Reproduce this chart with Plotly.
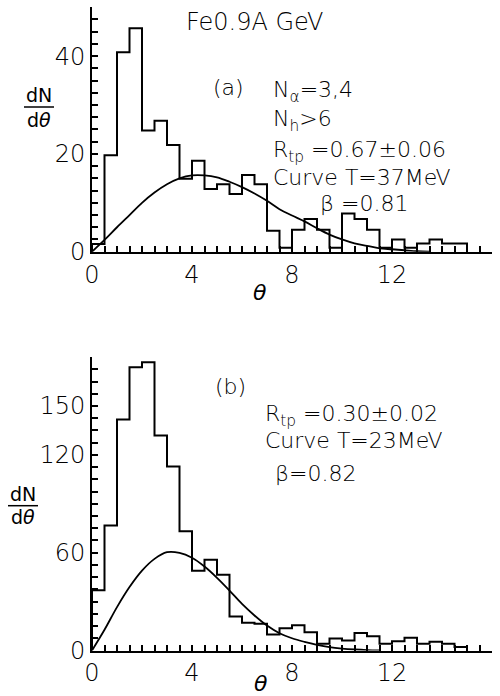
import numpy as np
import plotly.graph_objects as go

# ---- data -------------------------------------------------------------
BIN_WIDTH = 0.5  # theta bin width (deg)

# panel (a): Fe 0.9A GeV, N_alpha = 3,4, N_h > 6
hist_a = [1.6, 19.7, 40.8, 45.7, 24.8, 26.8, 21.8, 14.9, 18.6, 12.8,
          13.8, 11.8, 15.7, 13.8, 4.3, 0.8, 4.5, 6.7, 4.5, 0.8,
          7.8, 6.7, 4.5, 0.8, 2.5, 0.8, 1.7, 2.5, 1.7, 1.7]
curve_a_theta = [0, 0.5, 1, 1.5, 2, 2.5, 3, 3.5, 4, 4.5, 5, 5.5, 6, 6.5, 7,
                 7.5, 8, 8.5, 9, 9.5, 10, 10.5, 11, 11.5, 12, 12.5, 13, 13.5]
curve_a_val = [0, 2.4, 5.0, 7.5, 10.0, 12.1, 13.8, 15.0, 15.6, 15.6, 15.2,
               14.3, 13.2, 11.9, 10.4, 8.7, 7.4, 6.2, 4.8, 3.5, 2.5, 1.7,
               1.2, 0.7, 0.5, 0.3, 0.1, 0.0]

# panel (b)
hist_b = [37.0, 76.7, 141.7, 173.8, 176.9, 131.9, 112.9, 73.2, 49.0, 55.6,
          46.4, 20.9, 17.0, 16.4, 9.8, 13.7, 15.5, 11.2, 4.1, 7.4,
          6.1, 10.8, 8.8, 4.1, 5.7, 7.8, 4.1, 5.3, 4.1, 2.2]
curve_b_theta = [0, 0.5, 1, 1.5, 2, 2.5, 3, 3.5, 4, 4.5, 5, 5.5, 6, 6.5, 7,
                 7.5, 8, 8.5, 9, 9.5, 10, 10.5, 11, 11.5]
curve_b_val = [0, 12.7, 26.6, 38.9, 49.0, 56.2, 60.3, 59.9, 56.9, 51.5, 44.6,
               36.8, 28.6, 21.5, 15.3, 10.6, 7.5, 5.3, 3.5, 2.1, 1.2, 0.6,
               0.2, 0.0]

x_labels_a = [0, 4, 8, 12, 16]
x_labels_b = [0, 4, 8, 12]
y_labels_a = [0, 20, 40]
y_labels_b = [0, 60, 120, 150]

W, H = 500, 696
FONT = "DejaVu Sans"


def px(x):
    return x / W


def py(y):
    return 1 - y / H


def step_xy(values, width):
    """Outline of a histogram as a staircase starting and ending on the axis."""
    v = np.asarray(values, dtype=float)
    edges = np.arange(len(v) + 1) * width
    xs = np.concatenate([[edges[0]], edges[:-1], [edges[-1], edges[-1]]])
    ys = np.concatenate([[0.0], v, [v[-1], 0.0]])
    return xs, ys


def tick_spec(step, top, labelled):
    """Evenly spaced tick marks; only the listed values carry a label."""
    vals = [round(i * step, 6) for i in range(int(round(top / step)) + 1)]
    text = []
    for v in vals:
        hit = [lab for lab in labelled if abs(lab - v) < 1e-6]
        text.append(str(hit[0]) if hit else "")
    return dict(tickmode="array", tickvals=vals, ticktext=text, tickangle=0)


fig = go.Figure()

for hist, th, cv, xa, ya in [
    (hist_a, curve_a_theta, curve_a_val, "x", "y"),
    (hist_b, curve_b_theta, curve_b_val, "x2", "y2"),
]:
    sx, sy = step_xy(hist, BIN_WIDTH)
    fig.add_trace(go.Scatter(x=sx.tolist(), y=sy.tolist(), mode="lines",
                             xaxis=xa, yaxis=ya,
                             line=dict(color="black", width=2, shape="hv"),
                             showlegend=False, hoverinfo="skip"))
    fig.add_trace(go.Scatter(x=th, y=cv, mode="lines", xaxis=xa, yaxis=ya,
                             line=dict(color="black", width=1.8,
                                       shape="spline", smoothing=1.0),
                             showlegend=False, hoverinfo="skip"))

tick_font = dict(family=FONT, size=24, color="black", weight=200)
axis_common = dict(showline=True, linewidth=2, linecolor="black",
                   ticks="inside", ticklen=6, tickwidth=1.6, tickcolor="black",
                   showgrid=False, zeroline=False, tickfont=tick_font,
                   mirror=False, fixedrange=True, automargin=False)

x_dom = [px(92), px(492)]
fig.update_layout(
    width=W, height=H,
    margin=dict(l=0, r=0, t=0, b=0),
    paper_bgcolor="white", plot_bgcolor="white",
    xaxis=dict(domain=x_dom, range=[0, 16], anchor="y",
               **tick_spec(0.5, 16, x_labels_a), **axis_common),
    yaxis=dict(domain=[py(251.7), py(7.2)], range=[0, 50], anchor="x",
               **tick_spec(2.5, 47.5, y_labels_a), **axis_common),
    xaxis2=dict(domain=x_dom, range=[0, 16], anchor="y2",
                **tick_spec(0.5, 16, x_labels_b), **axis_common),
    yaxis2=dict(domain=[py(650.5), py(357.1)], range=[0, 180], anchor="x2",
                **tick_spec(7.5, 180, y_labels_b), **axis_common),
)

label_font = dict(family=FONT, size=22, color="black", weight=200)
frac_font = dict(family=FONT, size=19, color="black")


def note(text, x, y, font=label_font, xanchor="left"):
    fig.add_annotation(text=text, x=px(x), y=py(y), xref="paper", yref="paper",
                       xanchor=xanchor, yanchor="middle", showarrow=False,
                       font=font)


# panel (a) labels
note("Fe0.9A GeV", 184, 22, font=dict(family=FONT, size=24, color="black",
                                       weight=200))
note("(a)", 211, 87)
note("N<sub>α</sub>=3,4", 271, 91)
note("N<sub>h</sub>&gt;6", 271, 121)
note("R<sub>tp</sub> =0.67±0.06", 271, 151)
note("Curve T=37MeV", 271, 177)
note("β =0.81", 318, 203)

# panel (b) labels
note("(b)", 213, 386)
note("R<sub>tp</sub> =0.30±0.02", 263, 415)
note("Curve T=23MeV", 263, 440)
note("β=0.82", 273, 473)

# axis titles: theta below each panel, dN/dtheta as a stacked fraction
note("<i>θ</i>", 260, 292, font=dict(family=FONT, size=22, color="black"),
     xanchor="center")
note("<i>θ</i>", 261, 683, font=dict(family=FONT, size=22, color="black"),
     xanchor="center")

for cx, y_num, y_bar, y_den in [(39, 95, 107, 120), (23, 494, 505.7, 517)]:
    note("dN", cx, y_num, font=frac_font, xanchor="center")
    note("d<i>θ</i>", cx, y_den, font=frac_font, xanchor="center")
    fig.add_shape(type="line", xref="paper", yref="paper",
                  x0=px(cx - 15), x1=px(cx + 15), y0=py(y_bar), y1=py(y_bar),
                  line=dict(color="black", width=1.5))

fig.write_html("out.html")
